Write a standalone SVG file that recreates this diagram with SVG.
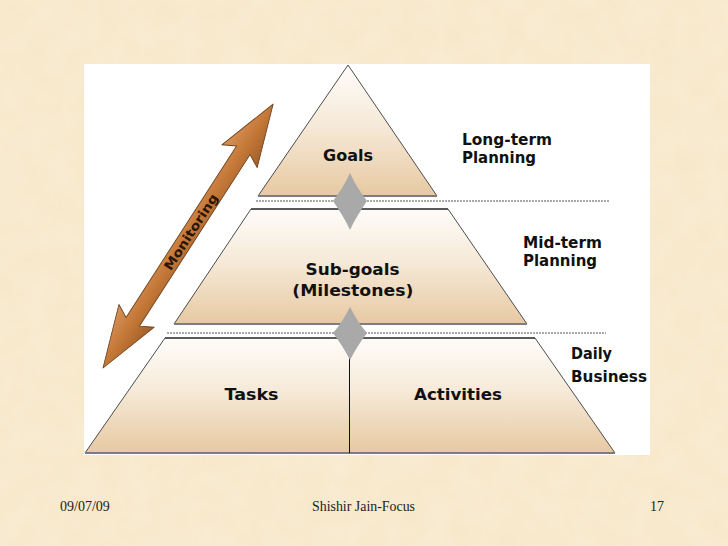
<svg xmlns="http://www.w3.org/2000/svg" width="728" height="546" viewBox="0 0 728 546">
  <defs>
    <linearGradient id="tier" x1="0" y1="0" x2="0" y2="1">
      <stop offset="0" stop-color="#fefcf9"/>
      <stop offset="0.45" stop-color="#f6ead9"/>
      <stop offset="1" stop-color="#e7c9a2"/>
    </linearGradient>
    <linearGradient id="arrowFill" x1="0" y1="0" x2="0" y2="1">
      <stop offset="0" stop-color="#d8935a"/>
      <stop offset="0.5" stop-color="#c47838"/>
      <stop offset="1" stop-color="#a15f28"/>
    </linearGradient>
    <filter id="paper" x="0" y="0" width="100%" height="100%">
      <feTurbulence type="fractalNoise" baseFrequency="0.04" numOctaves="3" seed="4" result="n"/>
      <feColorMatrix in="n" type="matrix" values="0 0 0 0 0.98  0 0 0 0 0.93  0 0 0 0 0.84  0 0 0 0.3 0" result="c"/>
      <feComposite in="c" in2="SourceGraphic" operator="over"/>
    </filter>
  </defs>
  <style>
    .tier { fill: url(#tier); stroke: #3a3a3a; stroke-width: 0.9; }
    .base { stroke: #7d7d7d; stroke-width: 2; fill: none; }
    .topline { stroke: #111; stroke-width: 1.2; fill: none; }
    .dots { stroke: #555; stroke-width: 1; stroke-dasharray: 2 1; fill: none; }
    .diamond { fill: #a9a9a9; }
    .lbl { font-family: "DejaVu Sans", Verdana, sans-serif; font-weight: bold; font-size: 16px; fill: #111; }
    .foot { font-family: "Liberation Serif", "Times New Roman", serif; font-size: 14px; fill: #222; }
    .mon { font-family: "DejaVu Sans", Verdana, sans-serif; font-weight: bold; font-size: 12.5px; fill: #2a160a; }
  </style>

  <rect x="0" y="0" width="728" height="546" fill="#f7e7c8"/>
  <rect x="0" y="0" width="728" height="546" fill="#f7e7c8" filter="url(#paper)"/>
  <rect x="84" y="64" width="566" height="391" fill="#ffffff"/>

  <!-- level separators -->
  <g id="separators">
    <line class="dots" x1="256" y1="201" x2="610" y2="201"/>
    <line class="dots" x1="167" y1="333" x2="606" y2="333"/>
  </g>

  <g id="goals">
    <polygon class="tier" points="348,65 437,196 258,196"/>
    <line class="base" x1="258" y1="196" x2="437" y2="196"/>
    <text class="lbl" x="348" y="161" text-anchor="middle" textLength="50" lengthAdjust="spacingAndGlyphs">Goals</text>
  </g>

  <g id="subgoals">
    <polygon class="tier" points="251,209 448,209 527,324 174,324"/>
    <line class="topline" x1="251" y1="209" x2="448" y2="209"/>
    <line class="base" x1="174" y1="324" x2="527" y2="324"/>
    <text class="lbl" x="352.5" y="275" text-anchor="middle" textLength="94" lengthAdjust="spacingAndGlyphs">Sub-goals</text>
    <text class="lbl" x="352.8" y="296" text-anchor="middle" textLength="121" lengthAdjust="spacingAndGlyphs">(Milestones)</text>
  </g>

  <g id="daily">
    <polygon class="tier" points="165,338 535,338 615,453 85,453"/>
    <line class="topline" x1="165" y1="338" x2="535" y2="338"/>
    <line class="base" x1="85" y1="453" x2="615" y2="453"/>
    <line x1="349.5" y1="345" x2="349.5" y2="453" stroke="#111" stroke-width="1"/>
  </g>

  <g id="tasks">
    <text class="lbl" x="251.5" y="400" text-anchor="middle" textLength="54" lengthAdjust="spacingAndGlyphs">Tasks</text>
  </g>
  <g id="activities">
    <text class="lbl" x="458" y="400" text-anchor="middle" textLength="88" lengthAdjust="spacingAndGlyphs">Activities</text>
  </g>

  <g id="long-term">
    <text class="lbl" x="462" y="145" textLength="90" lengthAdjust="spacingAndGlyphs">Long-term</text>
    <text class="lbl" x="462" y="163" textLength="74" lengthAdjust="spacingAndGlyphs">Planning</text>
  </g>
  <g id="mid-term">
    <text class="lbl" x="523" y="248" textLength="79" lengthAdjust="spacingAndGlyphs">Mid-term</text>
    <text class="lbl" x="523" y="266" textLength="74" lengthAdjust="spacingAndGlyphs">Planning</text>
  </g>
  <g id="daily-business">
    <text class="lbl" x="571" y="359" textLength="41" lengthAdjust="spacingAndGlyphs">Daily</text>
    <text class="lbl" x="571" y="382" textLength="76" lengthAdjust="spacingAndGlyphs">Business</text>
  </g>

  <g id="connectors">
    <path class="diamond" d="M350,173 C355,184 361,193 367,201 C361,210 355,219 350,230 C345,219 339,210 333,201 C339,193 345,184 350,173 Z"/>
    <path class="diamond" d="M350,307 C355,317 361,326 367,333 C361,341 355,350 350,360 C345,350 339,341 333,333 C339,326 345,317 350,307 Z"/>
    <g id="monitoring" transform="translate(103,368) rotate(-57.2)">
      <polygon points="0,0 62,-21 55,-8 259,-8 252,-21 314,0 252,21 259,8 55,8 62,21" fill="url(#arrowFill)" stroke="#6e4420" stroke-width="0.9" stroke-linejoin="round"/>
      <text class="mon" x="162" y="4.6" text-anchor="middle" textLength="88" lengthAdjust="spacingAndGlyphs">Monitoring</text>
    </g>
  </g>

  <g id="footer">
    <text class="foot" x="60" y="511">09/07/09</text>
    <text class="foot" x="312" y="511" textLength="103" lengthAdjust="spacingAndGlyphs">Shishir Jain-Focus</text>
    <text class="foot" x="650" y="511">17</text>
  </g>
</svg>
